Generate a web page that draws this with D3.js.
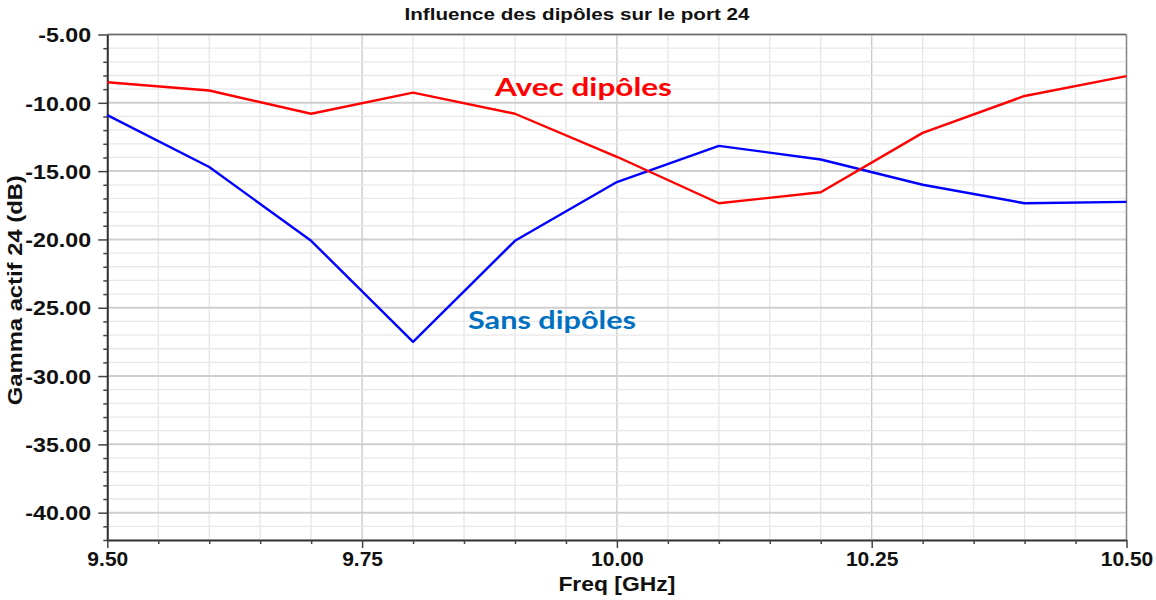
<!DOCTYPE html>
<html>
<head>
<meta charset="utf-8">
<script src="https://cdn.jsdelivr.net/npm/d3@7"></script>
<style>
  html, body { margin: 0; padding: 0; background: #fff; }
  svg { display: block; }
  .tick-label { font-family: "Liberation Sans", Arial, sans-serif; font-weight: bold; fill: #111; }
</style>
</head>
<body>
<svg id="chart" width="1156" height="600"></svg>
<script>
// Frequency sweep points (GHz)
const freq = [9.5, 9.6, 9.7, 9.8, 9.9, 10.0, 10.1, 10.2, 10.3, 10.4, 10.5];
// Active reflection coefficient of port 24 (dB), with dipoles
const avecDipoles = [-8.5, -9.1, -10.8, -9.25, -10.8, -13.95, -17.35, -16.55, -12.2, -9.5, -8.05];
// Active reflection coefficient of port 24 (dB), without dipoles
const sansDipoles = [-10.9, -14.7, -20.1, -27.5, -20.1, -15.8, -13.15, -14.15, -16.0, -17.35, -17.25];
// Axis ticks
const xTickValues = [9.5, 9.75, 10.0, 10.25, 10.5];
const xTickLabels = ["9.50", "9.75", "10.00", "10.25", "10.50"];
const yTickValues = [-5, -10, -15, -20, -25, -30, -35, -40];
const yTickLabels = ["-5.00", "-10.00", "-15.00", "-20.00", "-25.00", "-30.00", "-35.00", "-40.00"];

(function draw() {
  const svg = d3.select("#chart");
  const pL = 107.3, pR = 1126.5, pT = 34.5, pB = 540;

  const x = d3.scaleLinear().domain([9.5, 10.5]).range([pL, pR]);
  const y = d3.scaleLinear().domain([-42, -5]).range([pB, pT]);

  // Grid
  const grid = svg.append("g");
  const minorX = d3.range(0, 21).map(i => 9.5 + i * 0.05);
  const minorY = d3.range(-42, -4, 1);
  grid.selectAll("line.mx").data(minorX).join("line")
    .attr("x1", d => x(d)).attr("x2", d => x(d)).attr("y1", pT).attr("y2", pB)
    .attr("stroke", (d, i) => (i % 5 === 0) ? "#c8c8c8" : "#e6e6e6")
    .attr("stroke-width", 1.3);
  grid.selectAll("line.my").data(minorY).join("line")
    .attr("x1", pL).attr("x2", pR).attr("y1", d => y(d)).attr("y2", d => y(d))
    .attr("stroke", d => (d % 5 === 0) ? "#cfcfcf" : "#e8e8e8")
    .attr("stroke-width", d => (d % 5 === 0) ? 2 : 1.3);

  // Plot frame
  svg.append("line").attr("x1", pL).attr("x2", pR).attr("y1", pT).attr("y2", pT)
    .attr("stroke", "#6a6a6a").attr("stroke-width", 1.5);
  svg.append("line").attr("x1", pR).attr("x2", pR).attr("y1", pT).attr("y2", pB)
    .attr("stroke", "#8a8a8a").attr("stroke-width", 1.5);

  // Y axis
  const yAxis = d3.axisLeft(y).tickValues(yTickValues)
    .tickFormat((d, i) => yTickLabels[i]).tickSize(9).tickSizeOuter(0);
  const gy = svg.append("g").attr("transform", `translate(${pL},0)`).call(yAxis);
  gy.select(".domain").attr("stroke", "#333").attr("stroke-width", 2);
  gy.selectAll(".tick line").attr("stroke", "#444").attr("stroke-width", 1.5);
  gy.selectAll(".tick text").attr("class", "tick-label")
    .attr("font-size", 20).attr("x", -14).attr("dy", "0.36em")
    .attr("transform", "scale(1.16,1)");
  // Minor y ticks
  const gyMinor = svg.append("g").attr("transform", `translate(${pL},0)`)
    .call(d3.axisLeft(y).tickValues(minorY.filter(d => d % 5 !== 0)).tickSize(4).tickFormat(""));
  gyMinor.select(".domain").remove();
  gyMinor.selectAll(".tick line").attr("stroke", "#444").attr("stroke-width", 1.5);

  // X axis
  const xAxis = d3.axisBottom(x).tickValues(xTickValues)
    .tickFormat((d, i) => xTickLabels[i]).tickSize(8).tickSizeOuter(0);
  const gx = svg.append("g").attr("transform", `translate(0,${pB})`).call(xAxis);
  gx.select(".domain").attr("stroke", "#333").attr("stroke-width", 2);
  gx.selectAll(".tick line").attr("stroke", "#444").attr("stroke-width", 1.5);
  gx.selectAll(".tick text").attr("class", "tick-label")
    .attr("font-size", 21).attr("y", 11).attr("dy", "0.71em");
  const gxMinor = svg.append("g").attr("transform", `translate(0,${pB})`)
    .call(d3.axisBottom(x).tickValues(minorX.filter((d, i) => i % 5 !== 0)).tickSize(4).tickFormat(""));
  gxMinor.select(".domain").remove();
  gxMinor.selectAll(".tick line").attr("stroke", "#444").attr("stroke-width", 1.5);

  // Axis titles
  svg.append("text").attr("class", "tick-label")
    .attr("x", (pL + pR) / 2).attr("y", 591).attr("text-anchor", "middle")
    .attr("font-size", 20).attr("textLength", 117).attr("lengthAdjust", "spacingAndGlyphs")
    .text("Freq [GHz]");
  svg.append("text").attr("class", "tick-label")
    .attr("transform", `translate(22,${(pT + pB) / 2 + 3}) rotate(-90)`)
    .attr("text-anchor", "middle").attr("font-size", 20)
    .attr("textLength", 230).attr("lengthAdjust", "spacingAndGlyphs")
    .text("Gamma actif 24 (dB)");

  // Chart title
  svg.append("text").attr("class", "tick-label")
    .attr("x", 577).attr("y", 20).attr("text-anchor", "middle")
    .attr("font-size", 17).attr("textLength", 345).attr("lengthAdjust", "spacingAndGlyphs")
    .text("Influence des dipôles sur le port 24");

  // Curves
  const line = d3.line().x((d, i) => x(freq[i])).y(d => y(d));
  svg.append("path").datum(sansDipoles).attr("d", line)
    .attr("fill", "none").attr("stroke", "#0000ff").attr("stroke-width", 2.4).attr("stroke-linejoin", "round");
  svg.append("path").datum(avecDipoles).attr("d", line)
    .attr("fill", "none").attr("stroke", "#ff0000").attr("stroke-width", 2.4).attr("stroke-linejoin", "round");

  // Curve annotations
  svg.append("text").attr("x", 495).attr("y", 96)
    .attr("font-family", "Lato, 'Noto Sans', sans-serif").attr("font-weight", "bold")
    .attr("font-size", 25).attr("fill", "#ff0000")
    .attr("textLength", 177).attr("lengthAdjust", "spacingAndGlyphs")
    .text("Avec dipôles");
  svg.append("text").attr("x", 468).attr("y", 329)
    .attr("font-family", "Lato, 'Noto Sans', sans-serif").attr("font-weight", "bold")
    .attr("font-size", 25).attr("fill", "#0070c0")
    .attr("textLength", 168).attr("lengthAdjust", "spacingAndGlyphs")
    .text("Sans dipôles");
})();
</script>
</body>
</html>
